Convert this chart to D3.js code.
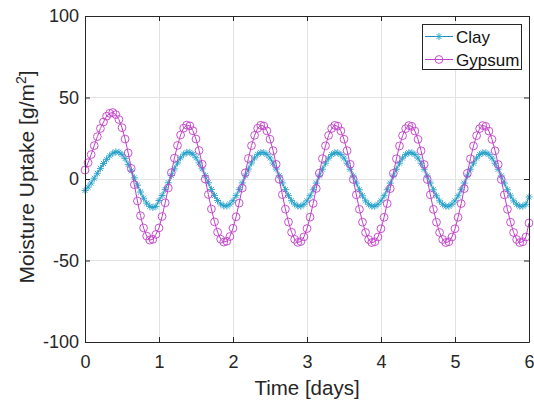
<!DOCTYPE html>
<html>
<head>
<meta charset="utf-8">
<script src="https://cdn.jsdelivr.net/npm/d3@7"></script>
<style>
  html, body { margin: 0; padding: 0; background: #fff; }
  svg { display: block; font-family: "Liberation Sans", Arial, Helvetica, sans-serif; }
</style>
</head>
<body>
<svg id="chart" width="534" height="403"></svg>
<script>
// ---- data (hourly samples, 0 .. 6 days) ----
const seriesNames = ["Clay", "Gypsum"];
const xTicks = [0, 1, 2, 3, 4, 5, 6];
const yTicks = [-100, -50, 0, 50, 100];
const xLabel = "Time [days]";
const yLabelMain = "Moisture Uptake [g/m";
const yLabelSup = "2";
const yLabelEnd = "]";
const samplesPerDay = 24;

const clay = [
  -7.0, -5.0, -2.5, 0.5, 3.5, 6.5, 9.5, 12.0, 14.2, 15.8, 16.6, 16.4, 15.0, 12.5, 9.0, 5.0, 0.7, -3.8, -8.0, -11.8, -14.8, -16.8, -17.5, -16.8,
  -13.2, -10.1, -6.4, -2.3, 2.1, 6.2, 9.9, 13.0, 15.2, 16.3, 16.3, 15.2, 13.0, 9.9, 6.2, 2.1, -2.3, -6.4, -10.1, -13.2, -15.3, -16.5, -16.6, -15.4,
  -13.3, -10.2, -6.5, -2.4, 2.0, 6.1, 9.8, 12.9, 15.1, 16.2, 16.2, 15.1, 12.9, 9.8, 6.1, 2.0, -2.4, -6.5, -10.2, -13.3, -15.4, -16.6, -16.7, -15.5,
  -13.4, -10.3, -6.6, -2.5, 1.9, 6.0, 9.7, 12.8, 15.0, 16.1, 16.1, 15.0, 12.8, 9.7, 6.0, 1.9, -2.5, -6.6, -10.3, -13.4, -15.5, -16.7, -16.7, -15.5,
  -13.4, -10.3, -6.6, -2.5, 1.9, 6.0, 9.7, 12.8, 15.0, 16.1, 16.1, 15.0, 12.8, 9.7, 6.0, 1.9, -2.5, -6.6, -10.3, -13.4, -15.5, -16.7, -16.7, -15.5,
  -13.4, -10.3, -6.6, -2.5, 1.9, 6.0, 9.7, 12.8, 15.0, 16.1, 16.1, 15.0, 12.8, 9.7, 6.0, 1.9, -2.5, -6.6, -10.3, -13.4, -15.5, -16.7, -16.7, -15.5,
  -11.0
];

const gypsum = [
  5.5, 10.0, 15.0, 20.5, 26.0, 31.0, 35.0, 38.5, 40.3, 40.8, 39.5, 36.5, 31.5, 24.5, 16.0, 6.5, -3.5, -13.5, -22.5, -30.0, -35.0, -37.5, -37.0, -34.0,
  -30.0, -23.0, -14.6, -5.5, 3.9, 12.8, 20.6, 27.0, 31.2, 33.1, 32.6, 29.6, 24.5, 17.5, 9.1, -0.1, -9.5, -18.4, -26.3, -32.6, -36.9, -38.7, -38.2, -35.3,
  -30.2, -23.2, -14.8, -5.6, 3.8, 12.6, 20.5, 26.8, 31.1, 33.0, 32.5, 29.5, 24.4, 17.4, 9.0, -0.2, -9.6, -18.5, -26.4, -32.7, -37.0, -38.9, -38.4, -35.5,
  -30.4, -23.4, -15.0, -5.8, 3.6, 12.5, 20.4, 26.7, 31.0, 32.9, 32.4, 29.5, 24.4, 17.4, 9.0, -0.3, -9.7, -18.6, -26.5, -32.8, -37.1, -39.0, -38.5, -35.6,
  -30.5, -23.5, -15.1, -5.9, 3.5, 12.4, 20.3, 26.6, 30.9, 32.8, 32.3, 29.4, 24.3, 17.3, 8.9, -0.3, -9.7, -18.6, -26.5, -32.8, -37.1, -39.0, -38.5, -35.6,
  -30.5, -23.5, -15.1, -5.9, 3.5, 12.4, 20.3, 26.6, 30.9, 32.8, 32.3, 29.4, 24.3, 17.3, 8.9, -0.3, -9.7, -18.6, -26.5, -32.8, -37.1, -39.0, -38.5, -35.6,
  -27.0
];

// ---- layout ----
const svg = d3.select("#chart");
const W = 534, H = 403;
const plot = { left: 85, right: 529, top: 16, bottom: 342 };
const axisColor = "#262626";
const gridColor = "#e3e3e3";
const clayLine = "#1f8db8";
const clayMark = "#24a2c9";
const gypColor = "#c23fca";

svg.append("rect").attr("width", W).attr("height", H).attr("fill", "#fff");

const x = d3.scaleLinear().domain([0, 6]).range([plot.left, plot.right]);
const y = d3.scaleLinear().domain([-100, 100]).range([plot.bottom, plot.top]);

// grid
const grid = svg.append("g");
grid.selectAll("line.gx").data(xTicks).join("line")
  .attr("x1", d => x(d)).attr("x2", d => x(d))
  .attr("y1", plot.top).attr("y2", plot.bottom)
  .attr("stroke", gridColor).attr("stroke-width", 1).attr("shape-rendering", "crispEdges");
grid.selectAll("line.gy").data(yTicks).join("line")
  .attr("y1", d => y(d)).attr("y2", d => y(d))
  .attr("x1", plot.left).attr("x2", plot.right)
  .attr("stroke", gridColor).attr("stroke-width", 1).attr("shape-rendering", "crispEdges");

// series
const pts = arr => arr.map((v, i) => [i / samplesPerDay, v]);
const line = d3.line().x(d => x(d[0])).y(d => y(d[1]));

function asteriskPath(s) {
  const d = s * 0.7071;
  return `M${-s},0L${s},0M0,${-s}L0,${s}M${-d},${-d}L${d},${d}M${-d},${d}L${d},${-d}`;
}

const series = svg.append("g");
// Clay
series.append("path").datum(pts(clay)).attr("d", line)
  .attr("fill", "none").attr("stroke", clayLine).attr("stroke-width", 1);
series.append("g").selectAll("path").data(pts(clay)).join("path")
  .attr("transform", d => `translate(${x(d[0])},${y(d[1])})`)
  .attr("d", asteriskPath(3.5))
  .attr("fill", "none").attr("stroke", clayMark).attr("stroke-width", 0.9);
// Gypsum
series.append("path").datum(pts(gypsum)).attr("d", line)
  .attr("fill", "none").attr("stroke", gypColor).attr("stroke-width", 1);
series.append("g").selectAll("circle").data(pts(gypsum)).join("circle")
  .attr("cx", d => x(d[0])).attr("cy", d => y(d[1])).attr("r", 3.9)
  .attr("fill", "none").attr("stroke", gypColor).attr("stroke-width", 0.9);

// axes
const fontSize = 18;
const fmt = d => String(d);
const xAxis = d3.axisBottom(x).tickValues(xTicks).tickFormat(fmt)
  .tickSizeInner(-5).tickSizeOuter(0).tickPadding(13);
svg.append("g").attr("transform", `translate(0,${plot.bottom})`).call(xAxis);
const yAxis = d3.axisLeft(y).tickValues(yTicks).tickFormat(fmt)
  .tickSizeInner(-5).tickSizeOuter(0).tickPadding(6);
svg.append("g").attr("transform", `translate(${plot.left},0)`).call(yAxis);
const xTop = d3.axisTop(x).tickValues(xTicks).tickFormat("").tickSizeInner(-5).tickSizeOuter(0);
svg.append("g").attr("transform", `translate(0,${plot.top})`).call(xTop);
const yRight = d3.axisRight(y).tickValues(yTicks).tickFormat("").tickSizeInner(-5).tickSizeOuter(0);
svg.append("g").attr("transform", `translate(${plot.right},0)`).call(yRight);

svg.selectAll(".domain").attr("stroke", axisColor).attr("stroke-width", 1);
svg.selectAll(".tick line").attr("stroke", axisColor).attr("stroke-width", 1);
svg.selectAll(".tick text").attr("fill", axisColor).attr("font-size", fontSize)
  .attr("font-family", "'Liberation Sans', Arial, sans-serif");

// axis labels
svg.append("text").attr("x", (plot.left + plot.right) / 2).attr("y", 395)
  .attr("text-anchor", "middle").attr("font-size", 20.5).attr("fill", axisColor)
  .text(xLabel);

const yl = svg.append("text")
  .attr("transform", `translate(34,177) rotate(-90)`)
  .attr("text-anchor", "middle").attr("font-size", 21).attr("fill", axisColor);
yl.append("tspan").text(yLabelMain);
yl.append("tspan").attr("baseline-shift", "super").attr("font-size", 14).text(yLabelSup);
yl.append("tspan").text(yLabelEnd);

// legend
const lg = svg.append("g");
lg.append("rect").attr("x", 422.5).attr("y", 24.5).attr("width", 99).attr("height", 45)
  .attr("fill", "#fff").attr("stroke", axisColor).attr("stroke-width", 1);
const legendRows = [
  { name: seriesNames[0], color: clayLine, mark: clayMark, type: "star", cy: 36.5, by: 43 },
  { name: seriesNames[1], color: gypColor, mark: gypColor, type: "circle", cy: 59.5, by: 66 }
];
legendRows.forEach(r => {
  lg.append("line").attr("x1", 425).attr("x2", 453).attr("y1", r.cy).attr("y2", r.cy)
    .attr("stroke", r.color).attr("stroke-width", 1);
  if (r.type === "star") {
    lg.append("path").attr("transform", `translate(439,${r.cy})`).attr("d", asteriskPath(3.6))
      .attr("fill", "none").attr("stroke", r.mark).attr("stroke-width", 0.9);
  } else {
    lg.append("circle").attr("cx", 439).attr("cy", r.cy).attr("r", 3.9)
      .attr("fill", "none").attr("stroke", r.mark).attr("stroke-width", 0.9);
  }
  lg.append("text").attr("x", 456).attr("y", r.by).attr("font-size", 17)
    .attr("fill", "#111").text(r.name);
});
</script>
</body>
</html>
